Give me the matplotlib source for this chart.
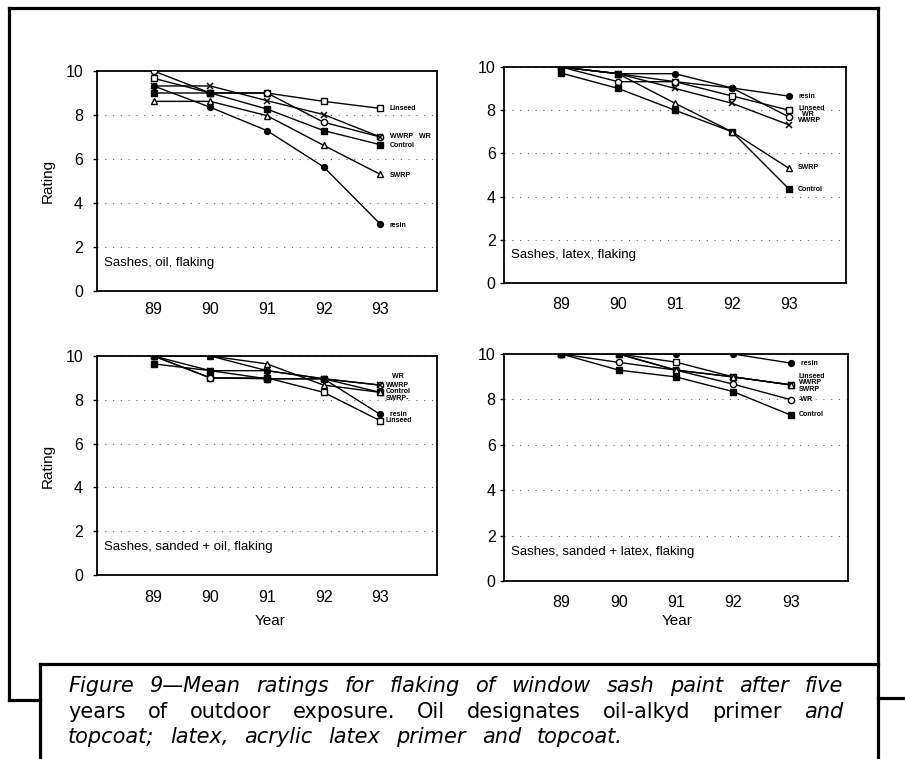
import matplotlib
matplotlib.use('Agg')
import matplotlib.pyplot as plt
from matplotlib.lines import Line2D

W, H = 905, 759
years = [89, 90, 91, 92, 93]
ytick_vals = [0, 2, 4, 6, 8, 10]
series_names = ['Linseed', 'WR', 'WWRP', 'Control', 'SWRP', 'resin']

# Sashes, oil, flaking
oil_linseed = [9.67, 9.0, 9.0, 8.62, 8.3]
oil_wr = [10.0, 9.0, 9.0, 7.67, 7.0]
oil_wwrp = [9.32, 9.32, 8.65, 8.02, 7.0]
oil_control = [9.0, 9.0, 8.27, 7.29, 6.65]
oil_swrp = [8.62, 8.62, 7.97, 6.62, 5.3]
oil_resin = [9.32, 8.35, 7.29, 5.64, 3.04]

# Sashes, latex, flaking
lat_linseed = [10.0, 9.69, 9.32, 8.66, 8.0]
lat_wr = [10.0, 9.32, 9.32, 9.03, 7.69]
lat_wwrp = [10.0, 9.69, 9.01, 8.32, 7.32]
lat_control = [9.72, 9.01, 8.0, 7.0, 4.35]
lat_swrp = [10.0, 9.69, 8.32, 7.0, 5.31]
lat_resin = [10.0, 9.69, 9.69, 9.03, 8.65]

# Sashes, sanded + oil, flaking
soil_linseed = [10.0, 9.0, 9.0, 8.34, 7.04]
soil_wr = [10.0, 9.0, 8.96, 8.96, 8.67]
soil_wwrp = [10.0, 9.33, 9.33, 8.96, 8.67]
soil_control = [9.64, 9.33, 8.96, 8.96, 8.34]
soil_swrp = [10.0, 10.0, 9.64, 8.67, 8.34]
soil_resin = [10.0, 10.0, 9.33, 8.96, 7.33]

# Sashes, sanded + latex, flaking
slat_linseed = [10.0, 10.0, 9.64, 8.99, 8.64]
slat_wr = [10.0, 9.63, 9.29, 8.67, 7.99]
slat_wwrp = [10.0, 10.0, 9.29, 8.99, 8.64]
slat_control = [10.0, 9.29, 8.99, 8.34, 7.31]
slat_swrp = [10.0, 10.0, 9.29, 8.99, 8.64]
slat_resin = [10.0, 10.0, 10.0, 10.0, 9.6]

# end labels (text, y position)
oil_labels = [('Linseed', 8.29), ('WWRP   WR', 7.0), ('Control', 6.62), ('SWRP', 5.27), ('resin', 2.98)]
lat_labels = [('resin', 8.65), ('Linseed', 8.08), ('  WR', 7.8), ('WWRP', 7.52), ('SWRP', 5.34), ('Control', 4.35)]
soil_labels = [('   WR', 9.05), ('WWRP', 8.67), ('Control', 8.37), ('SWRP-', 8.07), ('  resin', 7.33), ('Linseed', 7.04)]
slat_labels = [(' resin', 9.6), ('Linseed', 9.03), ('WWRP', 8.74), ('SWRP', 8.43), ('-WR', 7.99), ('Control', 7.34)]

titles = ['Sashes, oil, flaking', 'Sashes, latex, flaking',
          'Sashes, sanded + oil, flaking', 'Sashes, sanded + latex, flaking']

styles = {
    'Linseed': dict(marker='s', mfc='white', ms=4.5),
    'WR': dict(marker='o', mfc='white', ms=4.5),
    'WWRP': dict(marker='x', ms=5, mew=1.1),
    'Control': dict(marker='s', mfc='black', ms=4.5),
    'SWRP': dict(marker='^', mfc='white', ms=4.8),
    'resin': dict(marker='o', mfc='black', ms=4.2),
}

font = 'Liberation Sans'
plt.rcParams['font.family'] = [font, 'DejaVu Sans']

fig = plt.figure(figsize=(W / 100, H / 100), dpi=100)

# axes rectangles in pixels: left, top, right, bottom
rects = [(97, 71, 437, 291), (504, 67, 846, 283), (97, 356, 437, 575), (504, 354, 848, 581)]
panels = [
    [oil_linseed, oil_wr, oil_wwrp, oil_control, oil_swrp, oil_resin],
    [lat_linseed, lat_wr, lat_wwrp, lat_control, lat_swrp, lat_resin],
    [soil_linseed, soil_wr, soil_wwrp, soil_control, soil_swrp, soil_resin],
    [slat_linseed, slat_wr, slat_wwrp, slat_control, slat_swrp, slat_resin],
]
end_labels = [oil_labels, lat_labels, soil_labels, slat_labels]
label_x = [93.17, 93.16, 93.1, 93.14]
ypads = [7, 3, 7, 3]
xpads = [8, 10, 11, 10]

for i, (l, t, r, b) in enumerate(rects):
    ax = fig.add_axes([l / W, 1 - b / H, (r - l) / W, (b - t) / H])
    ax.set_xlim(88, 94)
    ax.set_ylim(0, 10)
    ax.yaxis.grid(True, linestyle=(0, (1, 6)), color='#666666', lw=0.8)
    ax.set_axisbelow(True)
    for name, vals in zip(series_names, panels[i]):
        ax.plot(years, vals, color='black', lw=1.0, mec='black', zorder=3, **styles[name])
    for txt, yv in end_labels[i]:
        ax.text(label_x[i], yv, txt, fontsize=5.0, fontweight='bold', va='center', ha='left')
    ax.text(0.02, 0.128, titles[i], transform=ax.transAxes, fontsize=9.5, va='center', ha='left')
    ax.set_xticks(years)
    ax.set_xticklabels([str(y) for y in years])
    ax.set_yticks(ytick_vals)
    ax.tick_params(axis='x', length=0, pad=xpads[i], labelsize=11.5)
    ax.tick_params(axis='y', direction='out', length=3, width=1, pad=ypads[i], labelsize=11.5)
    for s in ax.spines.values():
        s.set_linewidth(1.3)
    if i in (0, 2):
        ax.set_ylabel('Rating', fontsize=11)
        ax.yaxis.set_label_coords(-42 / (r - l), 0.5)

fig.text(270 / W, 1 - 621 / H, 'Year', fontsize=11, ha='center', va='center')
fig.text(677 / W, 1 - 621 / H, 'Year', fontsize=11, ha='center', va='center')

# frame lines (pixel coordinates)
def hline(x0, x1, y):
    fig.add_artist(Line2D([x0 / W, x1 / W], [1 - y / H, 1 - y / H], transform=fig.transFigure,
                          color='black', lw=2.3, solid_capstyle='projecting'))

def vline(x, y0, y1):
    fig.add_artist(Line2D([x / W, x / W], [1 - y0 / H, 1 - y1 / H], transform=fig.transFigure,
                          color='black', lw=2.3, solid_capstyle='projecting'))

hline(9, 878, 8)
vline(9, 8, 700)
hline(9, 40, 700)
vline(40, 664, 759)
hline(40, 878, 664)
vline(878, 8, 759)
hline(878, 905, 698)

# caption
cap_font = ['DejaVu Sans']
cap_fs = 15
line1 = [(w, 'italic') for w in 'Figure 9\u2014Mean ratings for flaking of window sash paint after five'.split()]
line2 = [(w, 'normal') for w in 'years of outdoor exposure. Oil designates oil-alkyd primer'.split()] + [('and', 'italic')]
line3 = [(w, 'italic') for w in 'topcoat; latex, acrylic latex primer and topcoat.'.split()]

fig.canvas.draw()
renderer = fig.canvas.get_renderer()
min_gap = 0.3 * cap_fs * 100 / 72

def place_line(words, y_px, x0, x1):
    texts = [fig.text(0, 1 - y_px / H, w, fontsize=cap_fs, style=st, family=cap_font,
                      va='center', ha='left') for w, st in words]
    widths = [t.get_window_extent(renderer).width for t in texts]
    gap = max(min_gap, (x1 - x0 - sum(widths)) / (len(words) - 1))
    x = x0
    for t, wd in zip(texts, widths):
        t.set_x(x / W)
        x += wd + gap

place_line(line1, 686, 68, 843)
place_line(line2, 712, 68, 843)
place_line(line3, 737, 68, 623)

fig.savefig('out.png', dpi=100)
